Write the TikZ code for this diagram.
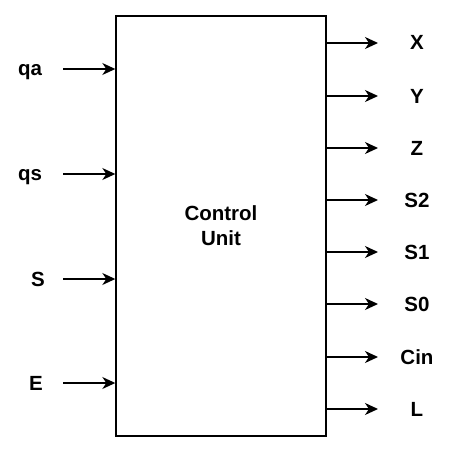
\documentclass[tikz,border=0pt]{standalone}
\usepackage{fontspec}
\setmainfont{Liberation Sans}
\usetikzlibrary{arrows.meta}
\begin{document}
\begin{tikzpicture}[x=1pt,y=-1pt,
  lbl/.style={font=\fontsize{20.5}{24}\selectfont\bfseries, inner sep=0pt, anchor=base},
  conn/.style={line width=1.4pt, -{Stealth[length=13pt,width=12pt,inset=4pt]}},
  unitbox/.style={draw, line width=1.4pt, minimum width=210pt, minimum height=420pt, inner sep=0pt, align=center, font=\fontsize{20.5}{25}\selectfont\bfseries}]
\useasboundingbox (0,0) rectangle (452,452);
\node[unitbox] (cu) at (221,226) {Control\\Unit};
% inputs
\foreach \n/\t/\lx/\yy/\bo in {qa/qa/30/69/6, qs/qs/30/174/6, s/S/38/279/7, e/E/36/383/7} {
  \node[lbl] (l\n) at (\lx,\yy+\bo) {\t};
  \coordinate (c\n) at (63,\yy);
  \draw[conn] (c\n) -- (c\n -| cu.west);
}
% outputs
\foreach \n/\t/\yy in {x/X/43, y/Y/96, z/Z/148, s2/S2/200, s1/S1/252, s0/S0/304, cin/Cin/357, l/L/409} {
  \node[lbl] (o\n) at (417,\yy+7) {\t};
  \coordinate (d\n) at (378,\yy);
  \draw[conn] (d\n -| cu.east) -- (d\n);
}
\end{tikzpicture}
\end{document}
